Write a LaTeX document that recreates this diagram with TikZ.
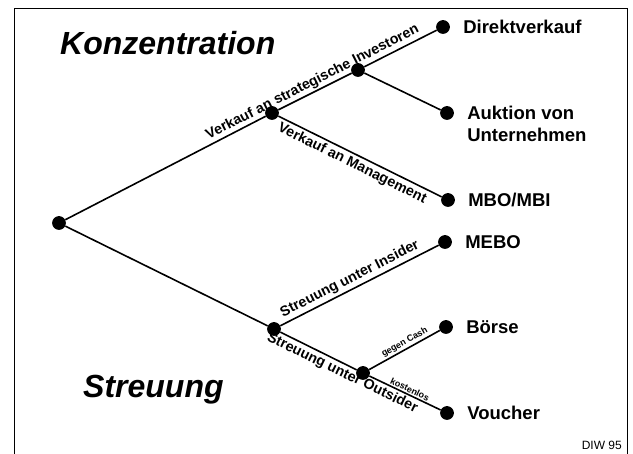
\documentclass[tikz,border=0pt]{standalone}
\usepackage{fontspec}
\setmainfont{Liberation Sans}
\usetikzlibrary{positioning}
\begin{document}
\begin{tikzpicture}[x=1pt,y=1pt,
  dot/.style={circle,fill=black,inner sep=0pt,minimum size=13.8pt},
  conn/.style={line width=1.6pt},
  lbl/.style={font=\fontsize{18.5}{22}\selectfont\bfseries, inner sep=0pt, anchor=west, align=left},
  elbl/.style={font=\fontsize{14.3}{16}\selectfont\bfseries, inner sep=3pt, sloped},
  smalllbl/.style={font=\fontsize{9}{10}\selectfont\bfseries, inner sep=2pt, sloped},
  titlelbl/.style={font=\fontsize{32}{36}\selectfont\bfseries\itshape, inner sep=0pt, anchor=base west}]
\useasboundingbox (0,0) rectangle (633,-454);
% frame
\draw[line width=0.8pt] (14,-454) -- (14,-8) -- (627,-8) -- (627,-454);
% titles
\node[titlelbl] (konz) at (60,-55) {Konzentration};
\node[titlelbl] (streu) at (83,-398) {Streuung};
% dots
\node[dot] (root) at (59,-223) {};
\node[dot] (A) at (272,-113) {};
\node[dot] (B) at (358,-70) {};
\node[dot] (dk) at (443,-27) {};
\node[dot] (auk) at (447,-113) {};
\node[dot] (mbo) at (448,-200) {};
\node[dot] (mebo) at (445,-242) {};
\node[dot] (C) at (274,-329) {};
\node[dot] (D) at (363,-373) {};
\node[dot] (boe) at (446,-327) {};
\node[dot] (vou) at (447,-413) {};
% connectors
\draw[conn] (root) -- (A);
\draw[conn] (A) -- (B);
\draw[conn] (B) -- (dk);
\draw[conn] (B) -- (auk);
\draw[conn] (A) -- (mbo);
\draw[conn] (root) -- (C);
\draw[conn] (C) -- (mebo);
\draw[conn] (C) -- (D);
\draw[conn] (D) -- (boe);
\draw[conn] (D) -- (vou);
% edge labels
\path (root.center) -- (dk.center) node[elbl, pos=0.672, above] (l1) {Verkauf an strategische Investoren};
\path (A.center) -- (mbo.center) node[elbl, pos=0.48, below] (l2) {Verkauf an Management};
\path (C.center) -- (mebo.center) node[elbl, pos=0.47, above] (l3) {Streuung unter Insider};
\path (C.center) -- (vou.center) node[elbl, pos=0.42, below] (l4) {Streuung unter Outsider};
\path (D.center) -- (boe.center) node[smalllbl, pos=0.54, above] (l5) {gegen Cash};
\path (D.center) -- (vou.center) node[smalllbl, pos=0.53, above] (l6) {kostenlos};
% leaf labels
\node[lbl, right=13pt of dk] (tdk) {Direktverkauf};
\node[lbl, right=13pt of auk, yshift=-11pt] (tauk) {Auktion von\\Unternehmen};
\node[lbl, right=13pt of mbo] (tmbo) {MBO/MBI};
\node[lbl, right=13pt of mebo] (tmebo) {MEBO};
\node[lbl, right=13pt of boe] (tboe) {Börse};
\node[lbl, right=13pt of vou] (tvou) {Voucher};
% source
\node[font=\fontsize{12}{13}\selectfont, inner sep=0pt, anchor=base east] (diw) at (622,-450) {DIW 95};
\end{tikzpicture}
\end{document}
